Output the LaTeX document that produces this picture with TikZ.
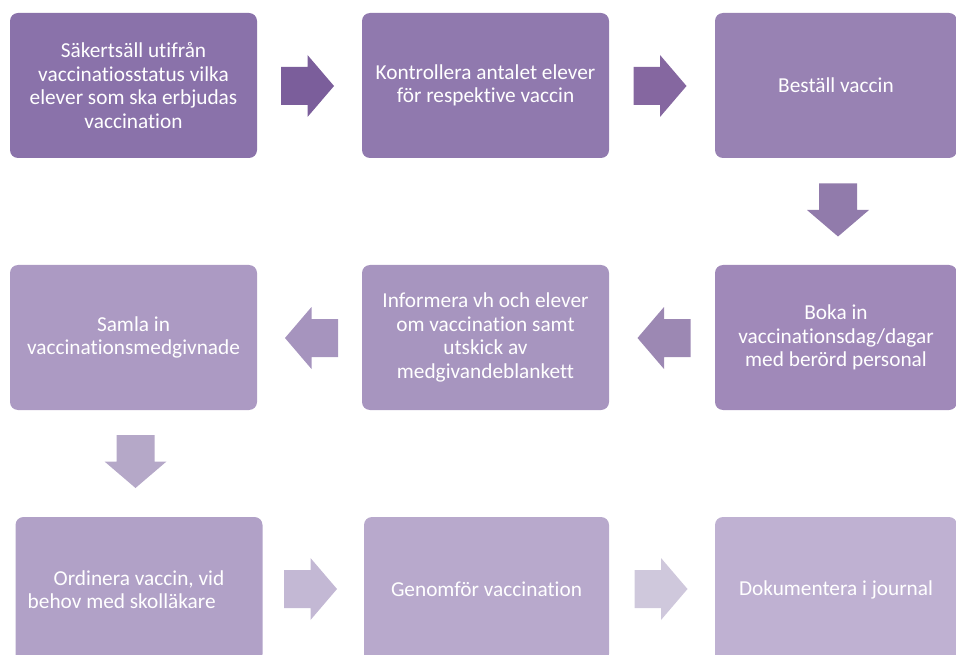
\documentclass[tikz,border=0pt]{standalone}
\usepackage{fontspec}
\setmainfont[Ligatures=NoCommon]{Carlito}
\definecolor{bA}{HTML}{8A72AA}
\definecolor{bB}{HTML}{9079AE}
\definecolor{bC}{HTML}{9882B3}
\definecolor{bD}{HTML}{A089B9}
\definecolor{bE}{HTML}{A795BF}
\definecolor{bF}{HTML}{AC9AC3}
\definecolor{bG}{HTML}{B1A1C7}
\definecolor{bH}{HTML}{B8A9CC}
\definecolor{bI}{HTML}{BFB1D2}
\definecolor{aA}{HTML}{7B5E9B}
\definecolor{aB}{HTML}{8567A0}
\definecolor{aC}{HTML}{917BAB}
\definecolor{aD}{HTML}{9C88B3}
\definecolor{aE}{HTML}{A694BE}
\definecolor{aF}{HTML}{B5A8C8}
\definecolor{aG}{HTML}{C3B8D4}
\definecolor{aH}{HTML}{CFC8DC}
\tikzset{
  stepbox/.style={rounded corners=8pt, minimum width=247pt, minimum height=145pt,
    inner sep=0pt, text=white, align=center,
    font=\fontsize{21.3}{23.5}\selectfont},
  blockarr/.pic={\fill (-26.5,-19) -- (0,-19) -- (0,-31) -- (26.5,0) -- (0,31)
    -- (0,19) -- (-26.5,19) -- cycle;}
}
\begin{document}
\begin{tikzpicture}[x=1pt,y=-1pt]
\useasboundingbox (0,0) rectangle (956,655);
\clip (0,0) rectangle (956,655);
% first row
\node[stepbox, fill=bA] (s1) at (133.5,85.5)
  {Säkertsäll utifrån\\vaccinatiosstatus vilka\\elever som ska erbjudas\\vaccination};
\node[stepbox, fill=bB] (s2) at (485.5,85.5)
  {Kontrollera antalet elever\\för respektive vaccin};
\node[stepbox, fill=bC, minimum width=242pt] (s3) at (836,85.5) {Beställ vaccin};
% second row
\node[stepbox, fill=bD, minimum width=242pt] (s4) at (836,337.5)
  {Boka in\\vaccinationsdag/dagar\\med berörd personal};
\node[stepbox, fill=bE] (s5) at (485.5,337.5)
  {Informera vh och elever\\om vaccination samt\\utskick av\\medgivandeblankett};
\node[stepbox, fill=bF] (s6) at (133.5,337.5)
  {Samla in\\vaccinationsmedgivnade};
% third row
\node[stepbox, fill=bG, align=left] (s7) at (139,589.5)
  {\hspace*{26pt}Ordinera vaccin, vid\hspace*{26pt}\\behov med skolläkare};
\node[stepbox, fill=bH, minimum width=245pt] (s8) at (486.5,589.5) {Genomför vaccination};
\node[stepbox, fill=bI, minimum width=242pt] (s9) at (836,589.5) {Dokumentera i journal};
% block arrows between the steps
\pic[fill=aA] at (307.5,86) {blockarr};
\pic[fill=aB] at (660,86) {blockarr};
\pic[fill=aC, rotate=-90] at (838,210) {blockarr};
\pic[fill=aD, rotate=180] at (664,338) {blockarr};
\pic[fill=aE, rotate=180] at (311.5,338) {blockarr};
\pic[fill=aF, rotate=-90] at (135.5,461.5) {blockarr};
\pic[fill=aG] at (310.5,589) {blockarr};
\pic[fill=aH] at (661,589) {blockarr};
\end{tikzpicture}
\end{document}
